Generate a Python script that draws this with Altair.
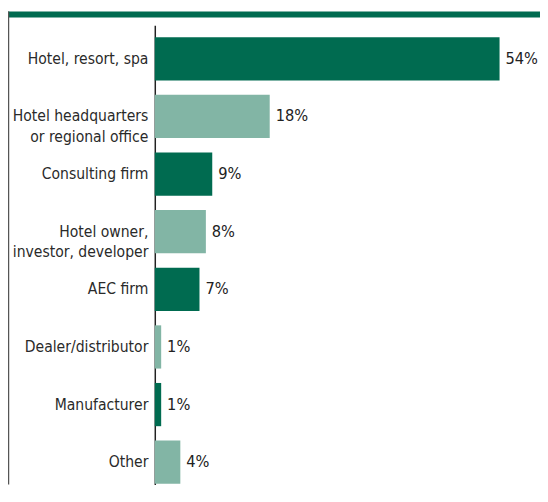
import altair as alt
import pandas as pd

categories = [
    "Hotel, resort, spa",
    "Hotel headquarters\nor regional office",
    "Consulting firm",
    "Hotel owner,\ninvestor, developer",
    "AEC firm",
    "Dealer/distributor",
    "Manufacturer",
    "Other",
]
values = [54, 18, 9, 8, 7, 1, 1, 4]
value_labels = ["54%", "18%", "9%", "8%", "7%", "1%", "1%", "4%"]
shades = ["dark", "light", "dark", "light", "dark", "light", "dark", "light"]

DARK = "#006B50"
LIGHT = "#82B5A5"
FONT = "DejaVu Sans Condensed, sans-serif"

df = pd.DataFrame({"cat": categories, "value": values, "label": value_labels, "shade": shades})

W, H = 383, 466

y_enc = alt.Y(
    "cat:N",
    sort=categories,
    scale=alt.Scale(paddingInner=0.25, paddingOuter=0.108, align=0.95),
    axis=alt.Axis(
        title=None,
        labelExpr="split(datum.label, '\\n')",
        labelFont=FONT,
        labelFontSize=15.8,
        labelColor="#2a2a2a",
        labelLineHeight=20.5,
        labelPadding=7,
        labelLimit=300,
        ticks=False,
        domainColor="#222222",
        domainWidth=1.5,
        grid=False,
    ),
)

x_enc = alt.X("value:Q", scale=alt.Scale(domain=[0, 59.1], nice=False), axis=None)

base = alt.Chart(df)

bars = base.mark_bar().encode(
    x=x_enc,
    y=y_enc,
    color=alt.Color("shade:N", scale=alt.Scale(domain=["dark", "light"], range=[DARK, LIGHT]), legend=None),
)

text = base.mark_text(align="left", baseline="middle", dx=6, font=FONT, fontSize=16.5, color="#222222").encode(
    x=x_enc,
    y=alt.Y("cat:N", sort=categories),
    text="label:N",
)

deco = pd.DataFrame({"a": [0]})
top_band = alt.Chart(deco).mark_rect(color=DARK).encode(
    x=alt.value(-149), x2=alt.value(W + 8), y=alt.value(-14), y2=alt.value(-8)
)
left_line = alt.Chart(deco).mark_rule(color="#555555", strokeWidth=1.5).encode(
    x=alt.value(-148.5), y=alt.value(-14), y2=alt.value(H)
)

chart = (
    alt.layer(bars, text, top_band, left_line)
    .properties(
        width=W,
        height=H,
        padding={"left": 149, "top": 14, "right": 8, "bottom": 0},
        autosize=alt.AutoSizeParams(type="none"),
        background="white",
    )
    .configure_view(stroke=None)
)

chart.save("out.html", embed_options={"renderer": "svg", "actions": False})
